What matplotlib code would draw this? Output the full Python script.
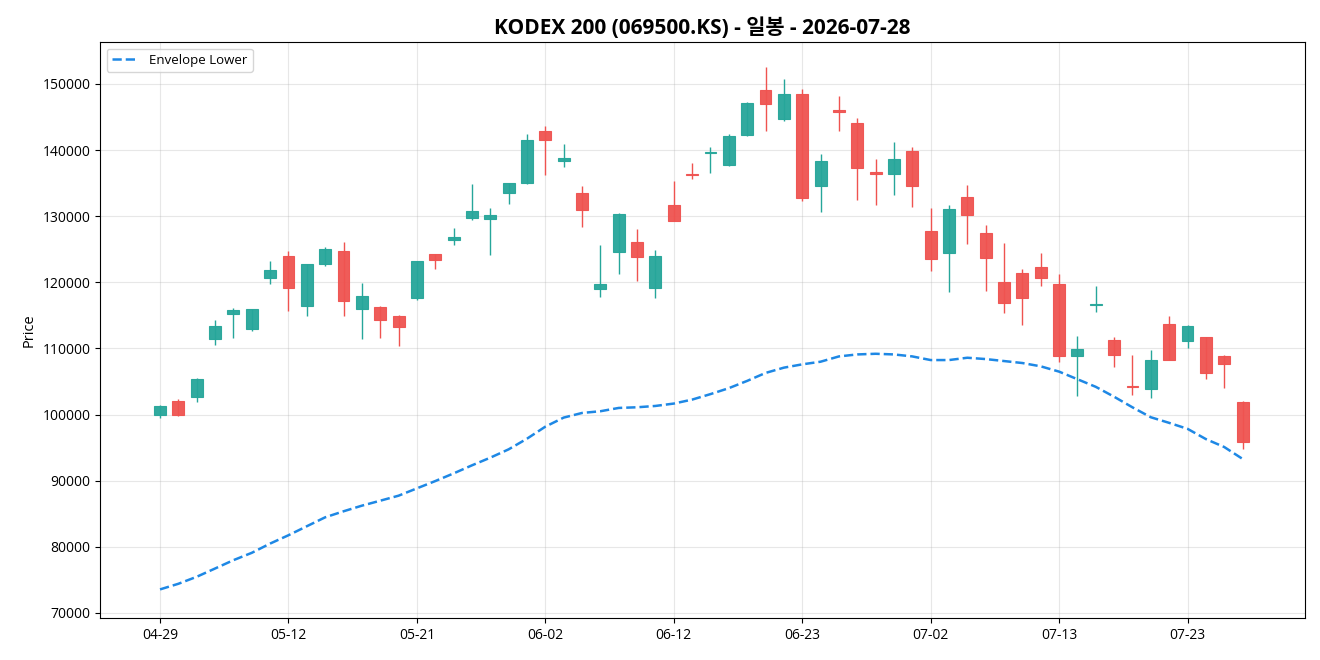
import numpy as np
import pandas as pd
import matplotlib
matplotlib.use("Agg")
import matplotlib.pyplot as plt

plt.rcParams['font.family'] = ['Open Sans', 'Noto Sans CJK KR', 'DejaVu Sans']
plt.rcParams['axes.unicode_minus'] = False

# trading days (KRX holidays skipped)
holidays = ['2026-05-01', '2026-05-05', '2026-05-25', '2026-06-03', '2026-07-17']
dates = pd.bdate_range('2026-04-29', '2026-07-28', freq='C', holidays=holidays)

opens = [99900, 102000, 102600, 111450, 115200, 112950, 120600, 124050, 116400, 122730,
         124700, 115900, 116260, 114900, 117580, 124240, 126360, 129700, 129550, 133490,
         135000, 142880, 138330, 133490, 118940, 124650, 126060, 119100, 131670, 136400,
         139500, 137730, 142270, 149090, 144700, 148480, 134550, 146060, 144090, 136670,
         136360, 139850, 127730, 124400, 132880, 127430, 120000, 121370, 122330, 119700,
         108900, 116550, 111300, 104350, 103800, 113700, 111150, 111800, 108900, 101900]
highs = [101500, 102300, 105500, 114350, 116150, 116000, 123200, 124700, 122800, 125350,
         126100, 119900, 116400, 115100, 123200, 124300, 128230, 134900, 131260, 135000,
         142370, 143690, 140960, 134600, 125660, 130500, 128080, 124900, 135350, 138080,
         140500, 142370, 147270, 152520, 150800, 149290, 139440, 148230, 144900, 138680,
         141260, 140500, 131270, 131720, 134750, 128640, 125960, 122020, 124450, 121260,
         111950, 119450, 111800, 109000, 109700, 114950, 113600, 111800, 108950, 102100]
lows = [99500, 99800, 101900, 110500, 111550, 112600, 119800, 115600, 114850, 122500,
        114950, 111470, 111600, 110400, 117380, 122070, 125660, 129450, 124140, 131900,
        134800, 136300, 137370, 128440, 117830, 121300, 120250, 117680, 129250, 135700,
        136600, 137530, 142070, 142930, 144340, 132370, 130710, 142930, 132480, 131720,
        133230, 131420, 121770, 118590, 125860, 118740, 115410, 113590, 119500, 107980,
        102850, 115450, 107200, 103000, 102550, 108250, 110000, 105350, 104000, 94850]
closes = [101250, 100000, 105450, 113400, 115800, 115950, 121800, 119100, 122700, 125000,
          117120, 117930, 114240, 113180, 123180, 123330, 126820, 130760, 130150, 135000,
          141500, 141520, 138790, 130910, 119700, 130300, 123790, 123940, 129250, 136160,
          139750, 142120, 147120, 146970, 148480, 132730, 138330, 145760, 137270, 136360,
          138640, 134550, 123490, 131060, 130150, 123640, 116820, 117580, 120610, 108790,
          109950, 116800, 109050, 104100, 108300, 108300, 113400, 106350, 107700, 95850]
env_lower = [73570, 74420, 75480, 76730, 77990, 79100, 80500, 81760, 83120, 84470,
             85380, 86230, 86980, 87740, 88850, 89950, 91110, 92330, 93490, 94750,
             96360, 98180, 99550, 100250, 100510, 101010, 101110, 101310, 101670, 102270,
             103100, 104000, 105100, 106300, 107100, 107600, 108000, 108800, 109100, 109200,
             109100, 108800, 108250, 108250, 108600, 108400, 108100, 107800, 107300, 106500,
             105350, 104200, 102700, 101100, 99600, 98750, 97850, 96300, 95100, 93300]

up_color = '#26a69a'
down_color = '#ef5350'

x = np.arange(len(closes))
o = np.array(opens)
h = np.array(highs)
l = np.array(lows)
c = np.array(closes)
colors = np.where(c >= o, up_color, down_color)

fig = plt.figure(figsize=(13.2, 6.6), dpi=100)
ax = fig.add_axes([0.0758, 0.0636, 0.9128, 0.8728])

ax.vlines(x, l, h, colors=colors, linewidth=1.0, zorder=2)
body_bottom = np.minimum(o, c)
body_height = np.maximum(np.abs(c - o), 150)
ax.bar(x, body_height, bottom=body_bottom, width=0.65, color=colors,
       edgecolor=colors, linewidth=0.8, alpha=0.95, zorder=3)

ax.plot(x, env_lower, color='#1e88e5', linestyle='--', linewidth=1.8,
        label='Envelope Lower', zorder=4)

ax.set_xlim(-3.27, 62.4)
ax.set_ylim(69240, 156350)
tick_idx = list(range(0, len(dates), 7))
ax.set_xticks(tick_idx)
ax.set_xticklabels([dates[i].strftime('%m-%d') for i in tick_idx])
ax.set_yticks(np.arange(70000, 150001, 10000))
ax.ticklabel_format(axis='y', style='plain', useOffset=False)
ax.tick_params(labelsize=10)

ax.set_title('KODEX 200 (069500.KS) - 일봉 - 2026-07-28', fontsize=15, fontweight='bold')
ax.set_ylabel('Price', fontsize=10.5)
ax.grid(True, alpha=0.3)
ax.legend(loc='upper left', fontsize=9.5)

fig.savefig('out.png', dpi=100)
